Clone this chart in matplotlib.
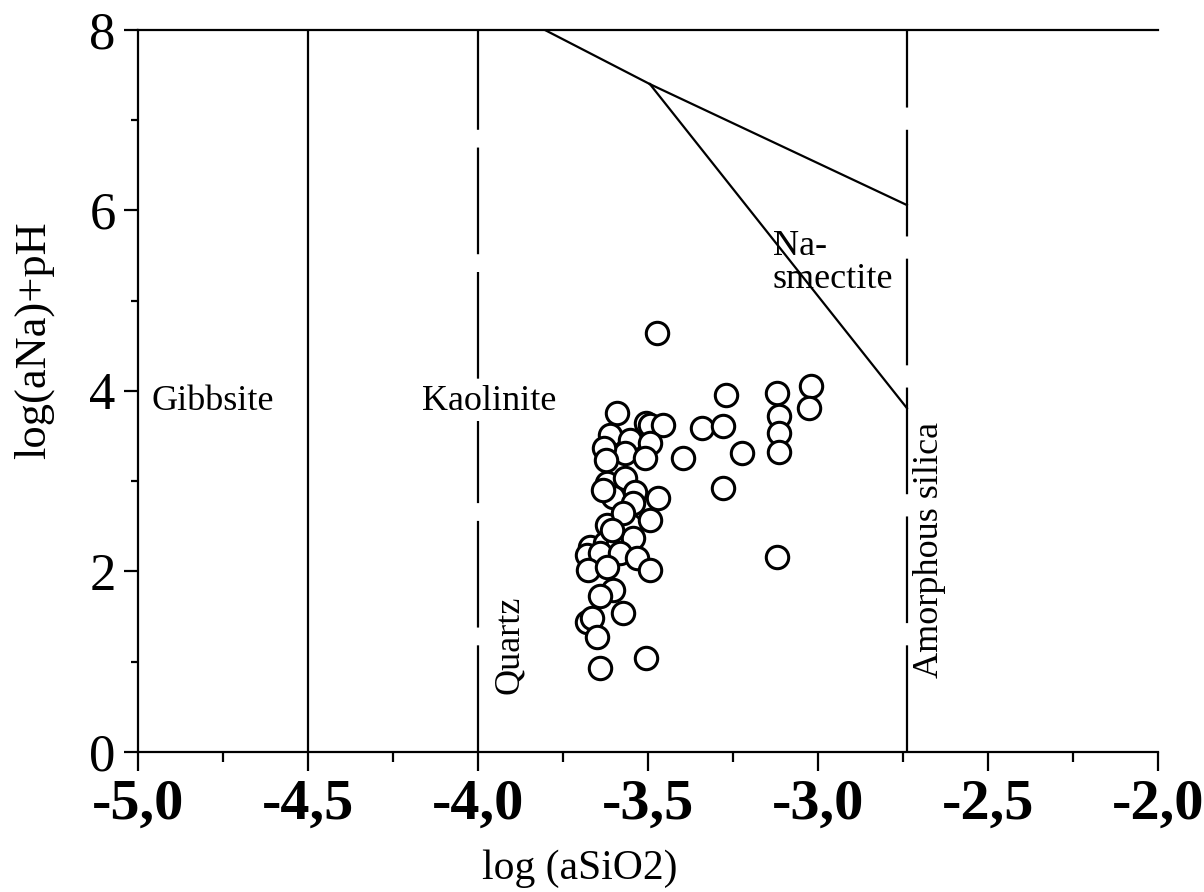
import numpy as np
import matplotlib.pyplot as plt
from matplotlib.ticker import MultipleLocator

# sample points: log(aSiO2), log(aNa)+pH
si = [-3.474, -3.341, -3.397, -3.279, -3.271, -3.279, -3.224, -3.121, -3.115,
      -3.115, -3.115, -3.021, -3.026, -3.121,
      -3.591, -3.506, -3.494, -3.456, -3.612, -3.553, -3.494, -3.618, -3.568,
      -3.509, -3.621, -3.568, -3.538, -3.603, -3.471, -3.544, -3.621, -3.553,
      -3.494, -3.671, -3.626, -3.588, -3.544, -3.679, -3.641, -3.582, -3.532,
      -3.494, -3.676, -3.621, -3.603, -3.641, -3.574, -3.679, -3.665, -3.650,
      -3.506, -3.641, -3.574, -3.629, -3.624, -3.632, -3.606]
na = [4.64, 3.59, 3.26, 3.61, 3.96, 2.93, 3.31, 3.98, 3.72,
      3.53, 3.32, 4.06, 3.81, 2.16,
      3.76, 3.65, 3.62, 3.62, 3.51, 3.46, 3.42, 3.31, 3.31,
      3.26, 2.98, 3.04, 2.88, 2.83, 2.81, 2.76, 2.52, 2.52,
      2.57, 2.27, 2.32, 2.32, 2.37, 2.18, 2.20, 2.20, 2.15,
      2.02, 2.02, 2.05, 1.80, 1.73, 1.54, 1.44, 1.48, 1.27,
      1.04, 0.93, 2.65, 3.37, 3.24, 2.90, 2.46]

# phase boundaries
gibbsite_kaol = -4.5
quartz = -4.0
amorphous = -2.738
top_x = [-3.803, -3.494]
top_y = [8.0, 7.40]
upper_x = [-3.494, -2.738]
upper_y = [7.40, 6.06]
lower_x = [-3.494, -2.738]
lower_y = [7.40, 3.81]

xticks = [-5.0, -4.5, -4.0, -3.5, -3.0, -2.5, -2.0]
xticklabels = ['-5,0', '-4,5', '-4,0', '-3,5', '-3,0', '-2,5', '-2,0']
yticks = [0, 2, 4, 6, 8]

plt.rcParams['font.family'] = ['Liberation Serif', 'DejaVu Serif']

fig = plt.figure(figsize=(12.04, 8.92), dpi=100)
ax = fig.add_axes([0.1146, 0.157, 0.847, 0.8094])

lw = 1.6
ax.axvline(gibbsite_kaol, color='k', lw=lw)
ax.axvline(quartz, color='k', lw=lw, dashes=(48, 8))
ax.axvline(amorphous, color='k', lw=lw, dashes=(48, 10))
ax.plot(top_x, top_y, color='k', lw=lw)
ax.plot(upper_x, upper_y, color='k', lw=lw)
ax.plot(lower_x, lower_y, color='k', lw=lw)

# open circles, white fill so overlapping ones hide each other
ax.scatter(si, na, s=260, facecolor='white', edgecolor='k', linewidths=2.2, zorder=3)

ax.set_xlim(-5.0, -2.0)
ax.set_ylim(0, 8)

ax.text(-4.78, 3.88, 'Gibbsite', fontsize=26, ha='center', va='center')
ax.text(-3.968, 3.88, 'Kaolinite', fontsize=26, ha='center', va='center',
        bbox=dict(facecolor='white', edgecolor='none', pad=2))
ax.text(-3.906, 1.19, 'Quartz', fontsize=26, ha='center', va='center', rotation=90)
ax.text(-2.671, 2.24, 'Amorphous silica', fontsize=26, ha='center', va='center',
        rotation=90)
ax.text(-3.132, 5.42, 'Na-\nsmectite', fontsize=26, ha='left', va='center',
        linespacing=1.0)

ax.spines['right'].set_visible(False)
for s in ['left', 'bottom', 'top']:
    ax.spines[s].set_linewidth(lw)

ax.set_xticks(xticks)
ax.set_xticklabels(xticklabels, fontsize=42, fontweight='bold')
ax.xaxis.set_minor_locator(MultipleLocator(0.25))
ax.set_yticks(yticks)
ax.set_yticklabels([str(v) for v in yticks], fontsize=38)
ax.yaxis.set_minor_locator(MultipleLocator(1))
ax.tick_params(axis='x', which='major', length=14, width=lw, direction='out', pad=5)
ax.tick_params(axis='x', which='minor', length=7, width=lw, direction='out')
ax.tick_params(axis='y', which='major', length=10, width=lw, direction='out', pad=6)
ax.tick_params(axis='y', which='minor', length=5, width=lw, direction='out')

ax.set_xlabel('log (aSiO2)', fontsize=30)
ax.xaxis.set_label_coords(0.433, -0.135)
ax.set_ylabel('log(aNa)+pH', fontsize=32)
ax.yaxis.set_label_coords(-0.082, 0.57)

fig.savefig('out.png', dpi=100)
